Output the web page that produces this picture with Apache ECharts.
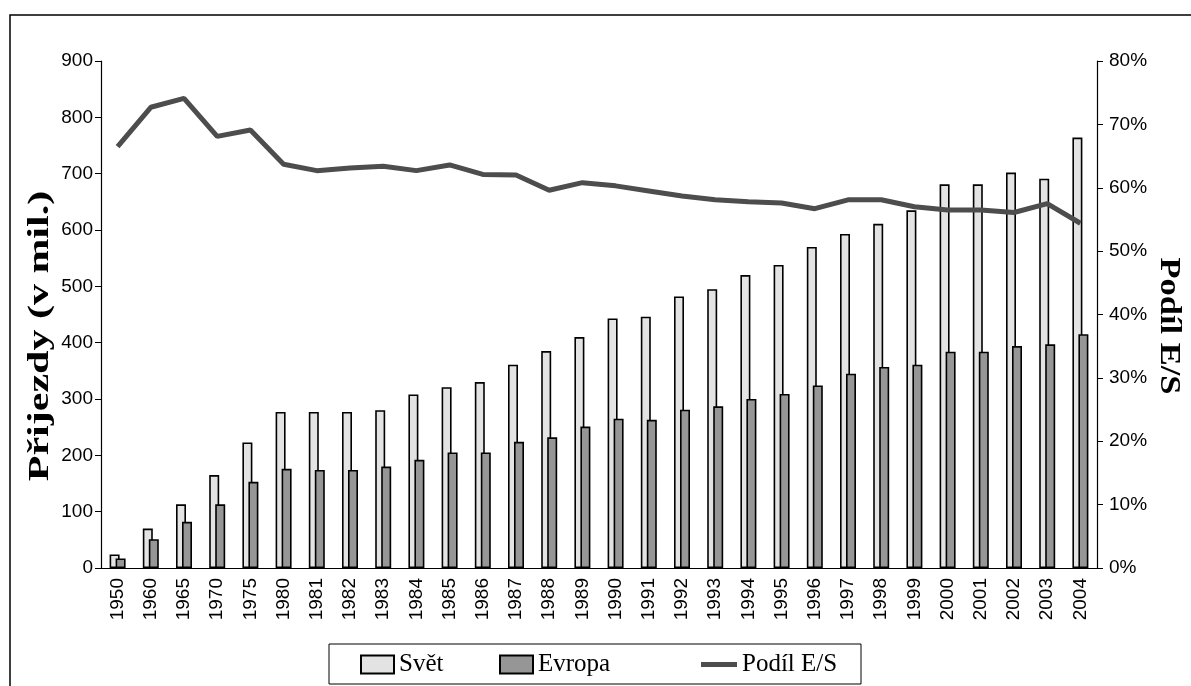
<!DOCTYPE html>
<html>
<head>
<meta charset="utf-8">
<script src="https://cdn.jsdelivr.net/npm/echarts@6/dist/echarts.min.js"></script>
<style>
html,body{margin:0;padding:0;background:#fff;}
#c{width:1191px;height:686px;}
</style>
</head>
<body>
<div id="c"></div>
<script>
var categories = ['1950','1960','1965','1970','1975','1980','1981','1982','1983','1984','1985','1986','1987','1988','1989','1990','1991','1992','1993','1994','1995','1996','1997','1998','1999','2000','2001','2002','2003','2004'];
var svet = [24,70,113,165,223,277,277,277,280,308,321,330,361,385,410,443,446,482,495,520,538,570,593,611,635,681,681,702,691,764];
var evropa = [17,51,82,113,153,176,174,174,180,192,205,205,224,232,251,265,263,281,287,300,309,324,345,357,361,384,384,394,397,415];
var podil = [66.5,72.7,74.1,68.1,69.1,63.7,62.7,63.1,63.4,62.7,63.6,62.1,62.0,59.6,60.8,60.3,59.5,58.7,58.1,57.8,57.6,56.7,58.1,58.1,57.0,56.5,56.5,56.1,57.5,54.4];
var leftTicks = {min:0, max:900, interval:100};
var rightTicks = {min:0, max:80, interval:10};

var chart = echarts.init(document.getElementById('c'), null, {renderer:'canvas'});
var sans = 'Liberation Sans, Arial, sans-serif';
var serif = 'Liberation Serif, Times New Roman, serif';
var legendText = {fontFamily:serif, fontSize:25, color:'#000'};
chart.setOption({
  animation:false,
  backgroundColor:'#fff',
  grid:{left:101, right:94, top:61, bottom:118},
  legend:[
    {data:[{name:'Svět', icon:'rect'}], left:360, top:652, padding:0, itemWidth:33, itemHeight:18, textStyle:legendText},
    {data:[{name:'Evropa', icon:'rect'}], left:499, top:652, padding:0, itemWidth:33, itemHeight:18, textStyle:legendText},
    {data:[{name:'Podíl E/S', icon:'rect', itemStyle:{color:'#4d4d4d', borderWidth:0}}], left:701, top:652, padding:0, itemWidth:36, itemHeight:5, textStyle:legendText}
  ],
  xAxis:{
    type:'category', data:categories,
    axisLine:{lineStyle:{color:'#000', width:1.2}},
    axisTick:{length:6, lineStyle:{color:'#000'}},
    axisLabel:{rotate:90, margin:10, fontFamily:sans, fontSize:19, color:'#000', interval:0}
  },
  yAxis:[
    {type:'value', min:leftTicks.min, max:leftTicks.max, interval:leftTicks.interval,
     axisLine:{show:true, lineStyle:{color:'#000', width:1.2}},
     axisTick:{show:true, length:6, lineStyle:{color:'#000'}},
     splitLine:{show:false},
     axisLabel:{margin:8, fontFamily:sans, fontSize:19, color:'#000'}},
    {type:'value', min:rightTicks.min, max:rightTicks.max, interval:rightTicks.interval, position:'right',
     axisLine:{show:true, lineStyle:{color:'#000', width:1.2}},
     axisTick:{show:true, length:6, lineStyle:{color:'#000'}},
     splitLine:{show:false},
     axisLabel:{margin:12, fontFamily:sans, fontSize:19, color:'#000', formatter:'{value}%'}}
  ],
  series:[
    {name:'Svět', type:'bar', data:svet, barWidth:10, barGap:'-40%',
     itemStyle:{color:'#e3e3e3', borderColor:'#000', borderWidth:1.6}},
    {name:'Evropa', type:'bar', data:evropa, barWidth:10, barGap:'-40%',
     itemStyle:{color:'#969696', borderColor:'#000', borderWidth:1.6}},
    {name:'Podíl E/S', type:'line', yAxisIndex:1, data:podil, symbol:'none', showSymbol:false,
     lineStyle:{color:'#4d4d4d', width:5}, itemStyle:{color:'#4d4d4d'}}
  ],
  graphic:[
    {type:'rect', z:-10, silent:true, shape:{x:10, y:15, width:1210, height:700},
     style:{fill:'none', stroke:'#000', lineWidth:1.5}},
    {type:'rect', z:-5, silent:true, shape:{x:329, y:644, width:532, height:40},
     style:{fill:'#fff', stroke:'#000', lineWidth:1}},
    {type:'text', x:40, y:336, rotation:Math.PI/2, silent:true,
     style:{text:'Přijezdy (v mil.)', font:'bold 30px Liberation Serif', fill:'#000', align:'center', verticalAlign:'middle'},
     scaleX:1.4},
    {type:'text', x:1169, y:326, rotation:-Math.PI/2, silent:true,
     style:{text:'Podíl E/S', font:'bold 30px Liberation Serif', fill:'#000', align:'center', verticalAlign:'middle'},
     scaleX:1.15}
  ]
});
</script>
</body>
</html>
